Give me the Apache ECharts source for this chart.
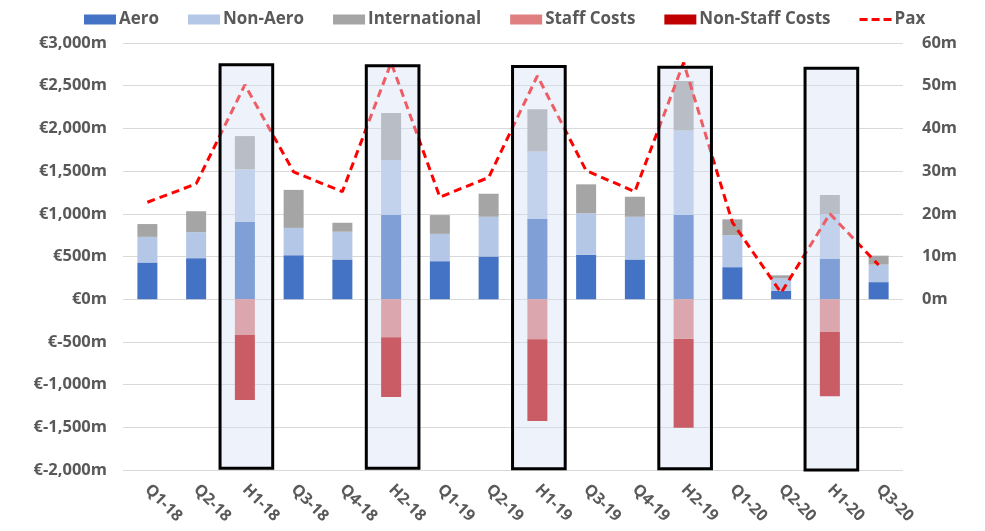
<!DOCTYPE html>
<html>
<head>
<meta charset="utf-8">
<script src="https://cdn.jsdelivr.net/npm/echarts@6/dist/echarts.min.js"></script>
<style>
html,body{margin:0;padding:0;background:#fff;}
#chart{width:985px;height:531px;}
</style>
</head>
<body>
<div id="chart"></div>
<script>
const categories = ['Q1-18','Q2-18','H1-18','Q3-18','Q4-18','H2-18','Q1-19','Q2-19','H1-19','Q3-19','Q4-19','H2-19','Q1-20','Q2-20','H1-20','Q3-20'];
const aero          = [430, 480, 905, 515, 465, 990, 445, 500, 940, 520, 465, 985, 375, 100, 475, 200];
const nonAero       = [300, 305, 615, 320, 325, 640, 320, 465, 790, 485, 500, 990, 375, 145, 520, 205];
const international = [150, 245, 390, 445, 105, 550, 220, 270, 495, 340, 235, 580, 185, 35, 225, 105];
const staffCosts    = [null, null, -420, null, null, -445, null, null, -470, null, null, -465, null, null, -380, null];
const nonStaffCosts = [null, null, -760, null, null, -700, null, null, -955, null, null, -1040, null, null, -755, null];
const pax           = [22.7, 27.0, 50.2, 29.8, 25.2, 55.4, 23.9, 28.5, 52.3, 30.1, 25.2, 55.4, 18.0, 1.5, 20.0, 8.0];

// highlight boxes (half-year columns)
const boxCategories = ['H1-18','H2-18','H1-19','H2-19','H1-20'];
const boxTops       = [2745, 2735, 2725, 2715, 2705];
const boxBottoms    = [-1980, -1980, -1985, -1985, -2000];

const leftTicks = { min: -2000, max: 3000, interval: 500 };
const rightTicks = { min: -40, max: 60, interval: 10 };

function fmtThousands(v) {
  const neg = v < 0;
  let s = String(Math.abs(v));
  s = s.replace(/\B(?=(\d{3})+(?!\d))/g, ',');
  return (neg ? '-' : '') + s;
}

const labelColor = '#595959';
const chart = echarts.init(document.getElementById('chart'), null, { renderer: 'canvas' });

const boxData = boxCategories.map((c, i) => [categories.indexOf(c), boxTops[i], boxBottoms[i]]);

chart.setOption({
  animation: false,
  legend: {
    top: 6,
    left: 79,
    itemWidth: 32,
    itemHeight: 10,
    itemGap: 29,
    data: [
      { name: 'Aero', icon: 'rect' },
      { name: 'Non-Aero', icon: 'rect' },
      { name: 'International', icon: 'rect' },
      { name: 'Staff Costs', icon: 'rect' },
      { name: 'Non-Staff Costs', icon: 'rect' },
      { name: 'Pax', icon: 'path://M0,0h8v3h-8z M12,0h8v3h-8z M24,0h8v3h-8z' }
    ],
    textStyle: { color: labelColor, fontSize: 17, fontWeight: 'bold', fontFamily: 'Open Sans', padding: [0, 0, 0, -2] }
  },
  grid: { left: 123, right: 82, top: 43, bottom: 61, containLabel: false },
  xAxis: {
    type: 'category',
    data: categories,
    axisLine: { show: false, onZero: false },
    axisTick: { show: false },
    axisLabel: {
      rotate: -45,
      margin: 17,
      interval: 0,
      color: labelColor,
      fontSize: 16,
      fontWeight: 'bold',
      fontFamily: 'Open Sans'
    }
  },
  yAxis: [
    {
      type: 'value',
      min: leftTicks.min, max: leftTicks.max, interval: leftTicks.interval,
      axisLine: { show: false },
      axisTick: { show: false },
      splitLine: { lineStyle: { color: '#d9d9d9', width: 1 } },
      axisLabel: {
        margin: 16,
        color: labelColor, fontSize: 16.5, fontWeight: 'bold', fontFamily: 'Open Sans',
        formatter: v => '€' + fmtThousands(v) + 'm'
      }
    },
    {
      type: 'value',
      min: rightTicks.min, max: rightTicks.max, interval: rightTicks.interval,
      axisLine: { show: false },
      axisTick: { show: false },
      splitLine: { show: false },
      axisLabel: {
        margin: 19,
        color: labelColor, fontSize: 16.5, fontWeight: 'bold', fontFamily: 'Open Sans',
        formatter: v => v < 0 ? '' : v + 'm'
      }
    }
  ],
  series: [
    { name: 'Aero', type: 'bar', stack: 'total', barWidth: 20, data: aero, itemStyle: { color: '#4472C4' } },
    { name: 'Non-Aero', type: 'bar', stack: 'total', barWidth: 20, data: nonAero, itemStyle: { color: '#B4C7E7' } },
    { name: 'International', type: 'bar', stack: 'total', barWidth: 20, data: international, itemStyle: { color: '#A5A5A5' } },
    { name: 'Staff Costs', type: 'bar', stack: 'total', barWidth: 20, data: staffCosts, itemStyle: { color: '#E07F7F' } },
    { name: 'Non-Staff Costs', type: 'bar', stack: 'total', barWidth: 20, data: nonStaffCosts, itemStyle: { color: '#C00000' } },
    {
      name: 'Pax', type: 'line', yAxisIndex: 1, data: pax,
      symbol: 'none', showSymbol: false, z: 5,
      itemStyle: { color: '#FF0000' },
      lineStyle: { color: '#FF0000', width: 3, type: [8, 5] }
    },
    {
      name: 'boxes', type: 'custom', z: 10, silent: true,
      data: boxData,
      encode: { x: 0, y: [1, 2] },
      renderItem: function (params, api) {
        const top = api.coord([api.value(0), api.value(1)]);
        const bot = api.coord([api.value(0), api.value(2)]);
        const w = api.size([1, 0])[0] * 1.08;
        return {
          type: 'rect',
          shape: { x: top[0] - w / 2 + 1.5, y: top[1], width: w, height: bot[1] - top[1] },
          style: { fill: 'rgba(213,223,243,0.41)', stroke: '#000', lineWidth: 3 }
        };
      }
    }
  ]
});
</script>
</body>
</html>
